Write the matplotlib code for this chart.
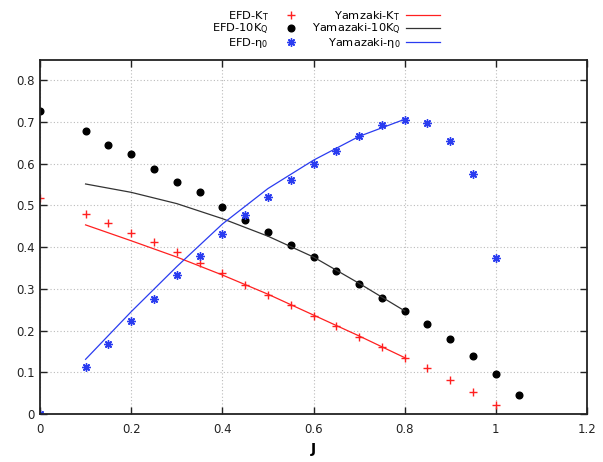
import matplotlib
matplotlib.use("Agg")
import matplotlib.pyplot as plt

# EFD measurements
J_efd = [0.0, 0.1, 0.15, 0.2, 0.25, 0.3, 0.35, 0.4, 0.45, 0.5, 0.55, 0.6, 0.65,
         0.7, 0.75, 0.8, 0.85, 0.9, 0.95, 1.0]
kt_efd = [0.517, 0.48, 0.457, 0.434, 0.411, 0.387, 0.361, 0.337, 0.309, 0.285, 0.26,
          0.235, 0.21, 0.185, 0.16, 0.135, 0.109, 0.082, 0.053, 0.021]
J_kq = J_efd + [1.05]
kq_efd = [0.726, 0.677, 0.645, 0.622, 0.588, 0.556, 0.531, 0.497, 0.465, 0.437,
          0.405, 0.375, 0.343, 0.311, 0.278, 0.247, 0.215, 0.18, 0.139, 0.097, 0.046]
eta_efd = [0.0, 0.112, 0.168, 0.223, 0.276, 0.332, 0.378, 0.431, 0.477, 0.519, 0.56,
           0.598, 0.631, 0.666, 0.692, 0.704, 0.698, 0.654, 0.574, 0.373]

# Yamazaki curves
J_yam = [0.1, 0.2, 0.3, 0.4, 0.5, 0.6, 0.7, 0.8]
kt_yam = [0.453, 0.415, 0.376, 0.333, 0.287, 0.237, 0.187, 0.135]
kq_yam = [0.551, 0.531, 0.504, 0.468, 0.426, 0.376, 0.313, 0.247]
eta_yam = [0.131, 0.245, 0.353, 0.455, 0.540, 0.608, 0.665, 0.706]

RED = "#ff2020"
BLUE = "#2a3cf0"

fig = plt.figure(figsize=(6.03, 4.62), dpi=100)
ax = fig.add_axes([40 / 603, 48 / 462, 547 / 603, 354 / 462])

h1, = ax.plot(J_efd, kt_efd, ls="none", marker="+", ms=5.5, mew=1.0, color=RED,
              label="EFD-K$_\\mathregular{T}$")
h2, = ax.plot(J_kq, kq_efd, ls="none", marker="o", ms=4.8, color="black",
              label="EFD-10K$_\\mathregular{Q}$")
h3, = ax.plot(J_efd, eta_efd, ls="none", marker=(8, 2, 0), ms=6, mew=1.0, color=BLUE,
              label="EFD-\u03b7$_\\mathregular{0}$")
h4, = ax.plot(J_yam, kt_yam, color=RED, lw=0.9, label="Yamzaki-K$_\\mathregular{T}$")
h5, = ax.plot(J_yam, kq_yam, color="#333333", lw=0.9, label="Yamazaki-10K$_\\mathregular{Q}$")
h6, = ax.plot(J_yam, eta_yam, color=BLUE, lw=0.9, label="Yamazaki-\u03b7$_\\mathregular{0}$")

ax.set_xlim(0, 1.2)
ax.set_ylim(0, 0.848)
ax.set_xticks([0, 0.2, 0.4, 0.6, 0.8, 1.0, 1.2])
ax.set_xticklabels(["0", "0.2", "0.4", "0.6", "0.8", "1", "1.2"])
ax.set_yticks([0, 0.1, 0.2, 0.3, 0.4, 0.5, 0.6, 0.7, 0.8])
ax.set_yticklabels(["0", "0.1", "0.2", "0.3", "0.4", "0.5", "0.6", "0.7", "0.8"])
ax.tick_params(direction="in", top=True, right=True, labelsize=8.5, length=5, width=1,
               colors="#222222")
ax.tick_params(axis="x", pad=6.5)
ax.tick_params(axis="y", pad=4)
ax.grid(True, ls=(0, (1, 2)), color="#bbbbbb", lw=0.8)
for s in ax.spines.values():
    s.set_linewidth(1.3)
    s.set_color("#222222")
ax.set_xlabel("J", fontsize=10, fontweight="bold", labelpad=4)

fig.legend(handles=[h1, h2, h3, h4, h5, h6], ncol=2, markerfirst=False, frameon=False,
           loc="upper left", bbox_to_anchor=(212 / 603, 1 - 9 / 462), fontsize=8.2,
           borderpad=0, borderaxespad=0, handlelength=3.0, labelspacing=-0.08,
           columnspacing=0.3, handletextpad=0.5)

fig.savefig("out.png", dpi=100)
